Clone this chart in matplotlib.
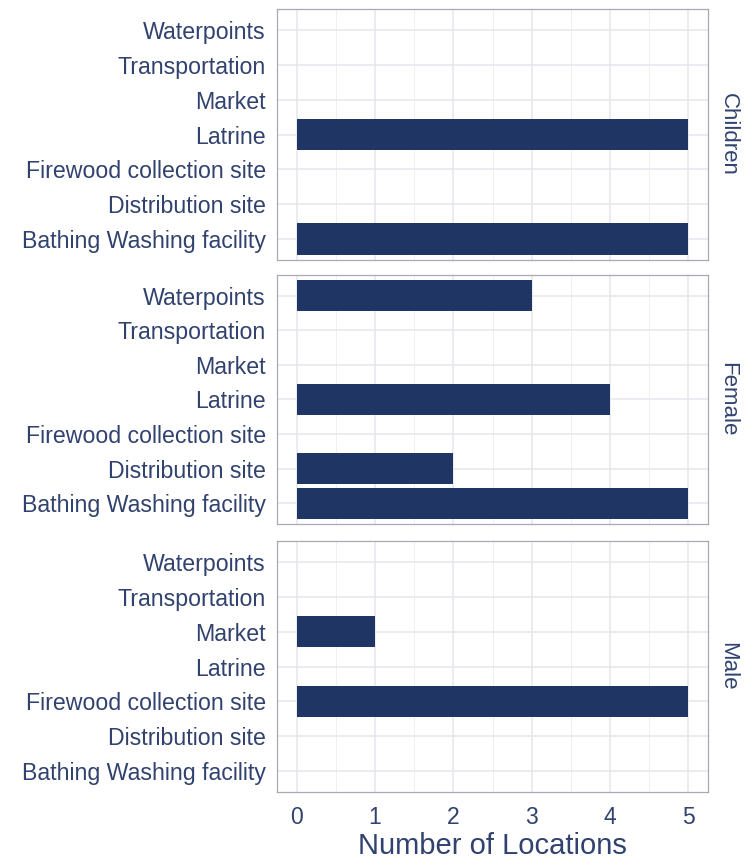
import matplotlib
matplotlib.use('Agg')
import matplotlib.pyplot as plt
from matplotlib.ticker import MultipleLocator

# categories, bottom to top as drawn
places = ['Bathing Washing facility', 'Distribution site',
          'Firewood collection site', 'Latrine', 'Market',
          'Transportation', 'Waterpoints']
groups = ['Children', 'Female', 'Male']
children = [5, 0, 0, 5, 0, 0, 0]
female = [5, 2, 0, 4, 0, 0, 3]
male = [0, 0, 5, 0, 1, 0, 0]
x_ticks = [0, 1, 2, 3, 4, 5]

TEXT = '#31426F'
BAR = '#1F3564'

plt.rcParams['font.family'] = ['Liberation Sans', 'DejaVu Sans']

W, H = 752, 860
fig = plt.figure(figsize=(W / 100, H / 100), dpi=100)

# panel boxes in pixels: (top, bottom)
boxes = [(9, 260), (275, 524), (541, 792)]
left, right = 277, 708

for (top, bottom), name, vals in zip(boxes, groups,
                                     [children, female, male]):
    ax = fig.add_axes([left / W, 1 - bottom / H, (right - left) / W,
                       (bottom - top) / H])
    ypos = range(len(places))
    ax.barh(ypos, vals, height=0.9, color=BAR, zorder=3)
    ax.set_xlim(-0.25, 5.25)
    ax.set_ylim(-0.6, len(places) - 0.4)
    ax.set_yticks(list(ypos))
    ax.set_yticklabels(places, fontsize=16.7, color=TEXT)
    ax.set_xticks(x_ticks)
    ax.xaxis.set_minor_locator(MultipleLocator(0.5))
    ax.grid(True, which='major', color='#E6E6EC', linewidth=1.1, zorder=0)
    ax.grid(True, which='minor', axis='x', color='#EFEFF3',
            linewidth=0.7, zorder=0)
    ax.tick_params(length=0, which='both')
    ax.tick_params(axis='y', pad=8)
    ax.tick_params(axis='x', pad=10)
    for sp in ax.spines.values():
        sp.set_color('#A9A9B4')
        sp.set_linewidth(0.9)
    ax.text(1.022, 0.5, name, transform=ax.transAxes, rotation=-90,
            va='center', ha='left', fontsize=16, color=TEXT)
    if name != 'Male':
        ax.tick_params(axis='x', labelbottom=False)
    else:
        ax.set_xticklabels([str(t) for t in x_ticks], fontsize=16.5,
                           color=TEXT)
        ax.set_xlabel('Number of Locations', fontsize=21, color=TEXT,
                      labelpad=2)

fig.savefig('out.png', dpi=100, facecolor='white')
